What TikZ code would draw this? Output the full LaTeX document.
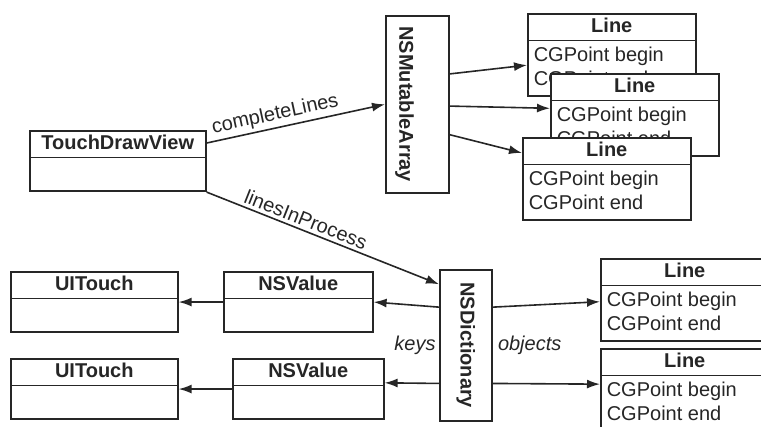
\documentclass[tikz,border=0pt]{standalone}
\usepackage{fontspec}
\setmainfont{Liberation Sans}
\usepackage{graphicx}
\usetikzlibrary{arrows.meta,positioning,calc,shapes.multipart}
\newcommand{\hdstrut}{\rule[-2.4pt]{0pt}{9.6pt}}
\newcommand{\emptypart}{\rule{0pt}{13pt}}

\begin{document}
\begin{tikzpicture}[x=0.5pt,y=-0.5pt,
  font=\fontsize{10}{12}\selectfont,
  color=black!85,
  umlclass/.style={draw,line width=.8pt,fill=white,rectangle split,rectangle split parts=2,
    rectangle split part align={center,left},inner xsep=3pt,inner ysep=1.5pt,anchor=north west},
  vclass/.style={draw,line width=.8pt,fill=white,inner sep=0pt,anchor=north west},
  flow/.style={-{Latex[length=6.5pt,width=4.5pt]},line width=.8pt},
  lbl/.style={font=\fontsize{10}{12}\selectfont,inner sep=1.5pt}]
  \useasboundingbox (0,0) rectangle (761,427);
  \clip (0,0) rectangle (761,427);
  \node[umlclass,minimum width=88pt] (tdv) at (29,130)
    {\textbf{TouchDrawView}\hdstrut\nodepart{two}\emptypart};
  \node[vclass,minimum width=31.5pt,minimum height=88.5pt] (nma) at (385,15)
    {\rotatebox{-90}{\textbf{NSMutableArray}\rule{0pt}{20pt}}};
  \node[vclass,minimum width=26pt,minimum height=75.5pt] (nd) at (439,269)
    {\rotatebox{-90}{\textbf{NSDictionary}}};
  % stacked lines of the array
  \node[umlclass,minimum width=84pt] (line1) at (527,13)
    {\textbf{Line}\hdstrut\nodepart{two}\begin{tabular}{@{}l@{}}CGPoint begin\\CGPoint end\end{tabular}};
  \node[umlclass,minimum width=84pt] (line2) at (550,73)
    {\textbf{Line}\hdstrut\nodepart{two}\begin{tabular}{@{}l@{}}CGPoint begin\\CGPoint end\end{tabular}};
  \node[umlclass,minimum width=84pt] (line3) at (522,137)
    {\textbf{Line}\hdstrut\nodepart{two}\begin{tabular}{@{}l@{}}CGPoint begin\\CGPoint end\end{tabular}};
  % dictionary contents
  \node[umlclass,minimum width=84pt] (line4) at (600,258)
    {\textbf{Line}\hdstrut\nodepart{two}\begin{tabular}{@{}l@{}}CGPoint begin\\CGPoint end\end{tabular}};
  \node[umlclass,minimum width=84pt] (line5) at (600,348)
    {\textbf{Line}\hdstrut\nodepart{two}\begin{tabular}{@{}l@{}}CGPoint begin\\CGPoint end\end{tabular}};
  \node[umlclass,minimum width=74.5pt] (value1) at (223,271)
    {\textbf{NSValue}\hdstrut\nodepart{two}\emptypart};
  \node[umlclass,minimum width=75.5pt] (value2) at (232,358)
    {\textbf{NSValue}\hdstrut\nodepart{two}\emptypart};
  \node[umlclass,minimum width=83.5pt] (touch1) at (10,271)
    {\textbf{UITouch}\hdstrut\nodepart{two}\emptypart};
  \node[umlclass,minimum width=83.5pt] (touch2) at (10,358)
    {\textbf{UITouch}\hdstrut\nodepart{two}\emptypart};
  \draw[flow] ($(tdv.north east)!.21!(tdv.south east)$) --
    node[lbl,sloped,above,pos=.4] {completeLines} (nma.west);
  \draw[flow] (tdv.south east) --
    node[lbl,sloped,above,pos=.41] {linesInProcess} ($(nd.north west)!.1!(nd.south west)$);
  \draw[flow] ($(nma.north east)!.33!(nma.south east)$) -- ($(line1.north west)!.62!(line1.south west)$);
  \draw[flow] ($(nma.north east)!.51!(nma.south east)$) -- ($(line2.north west)!.42!(line2.south west)$);
  \draw[flow] ($(nma.north east)!.67!(nma.south east)$) -- ($(line3.north west)!.19!(line3.south west)$);
  \draw[flow] ($(nd.north east)!.25!(nd.south east)$) -- ($(line4.north west)!.52!(line4.south west)$);
  \draw[flow] ($(nd.north east)!.75!(nd.south east)$) -- ($(line5.north west)!.43!(line5.south west)$);
  \draw[flow] ($(nd.north west)!.25!(nd.south west)$) -- (value1.east);
  \draw[flow] ($(nd.north west)!.75!(nd.south west)$) -- ($(value2.north east)!.4!(value2.south east)$);
  \draw[flow] (value1.west) -- (touch1.east);
  \draw[flow] (value2.west) -- (touch2.east);
  \node[lbl,font=\fontsize{10}{12}\selectfont\itshape,left=0pt of nd] (keys) {keys};
  \node[lbl,font=\fontsize{10}{12}\selectfont\itshape,right=1pt of nd] (objects) {objects};
\end{tikzpicture}
\end{document}
